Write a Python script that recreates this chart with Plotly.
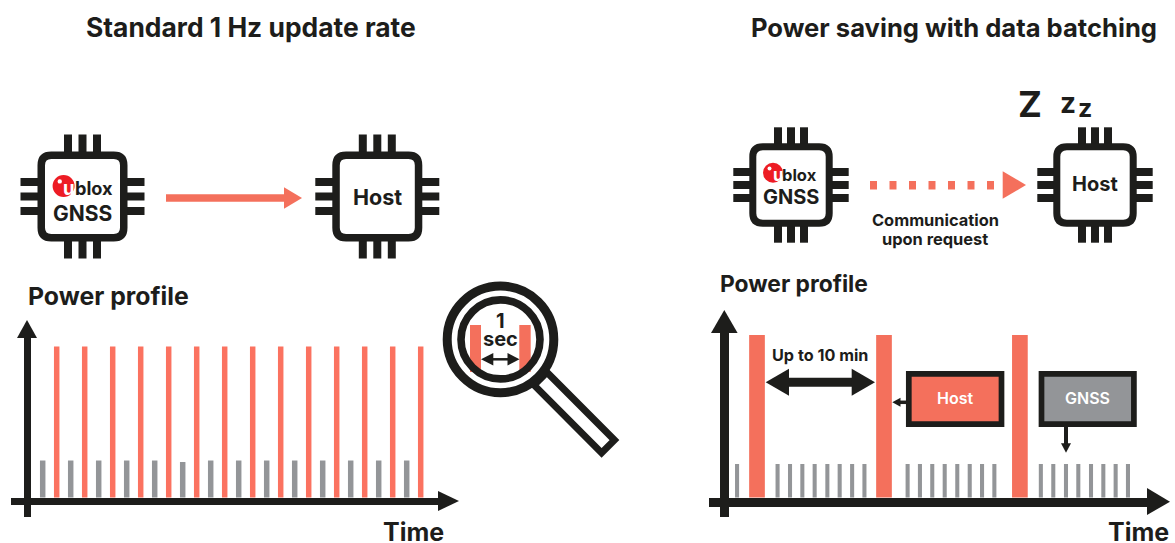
from plotly import graph_objects as go

# left profile: one fix per second, time in s, power in % of the peak
sec_fix_t = [1, 2, 3, 4, 5, 6, 7, 8, 9, 10, 11, 12, 13, 14]
sec_fix_p = [100] * 14
sec_idle_t = [0.5, 1.5, 2.5, 3.5, 4.5, 5.5, 6.5, 7.5, 8.5, 9.5, 10.5, 11.5, 12.5, 13.5]
sec_idle_p = [24.5, 24.5, 24.5, 24.5, 24.5, 23.5, 24.5, 24.5, 24.5, 24.5, 24.5, 24.5, 24.5, 24.5]

# right profile: batching, time in min
batch_host_t = [0, 10, 20.7]
batch_host_p = [100, 100, 100]
batch_gnss_t = [-1.57, 1.62, 2.6, 3.57, 4.54, 5.54, 6.51, 7.49, 8.46,
                11.86, 12.83, 13.8, 14.78, 15.77, 16.75, 17.72, 18.69,
                22.35, 23.33, 24.33, 25.3, 26.3, 27.27, 28.24, 29.21]
batch_gnss_p = [20.6] * 25

W = 1175
H = 543
BLACK = '#1d1d1b'
RED = '#f4705c'
GREY = '#939598'
FONT = 'Inter'


def line(x0, y0, x1, y1, w, color=BLACK):
    return dict(type='line', xref='x', yref='y', x0=x0, y0=y0, x1=x1, y1=y1,
                line=dict(color=color, width=w))


def rect(x0, y0, x1, y1, fill, stroke=None, w=0):
    return dict(type='rect', xref='x', yref='y', x0=x0, y0=y0, x1=x1, y1=y1,
                fillcolor=fill, line=dict(color=stroke or fill, width=w))


def poly(pts, fill=BLACK, stroke=None, w=0):
    path = 'M ' + ' L '.join(f'{x} {y}' for x, y in pts) + ' Z'
    return dict(type='path', xref='x', yref='y', path=path, fillcolor=fill,
                line=dict(color=stroke or fill, width=w))


def circle(cx, cy, r, fill='rgba(0,0,0,0)', stroke=BLACK, w=0):
    return dict(type='circle', xref='x', yref='y', x0=cx - r, y0=cy - r, x1=cx + r, y1=cy + r,
                fillcolor=fill, line=dict(color=stroke, width=w))


def chip(cx, cy, half, sw, pin_gap, pin_w, pin_out, corner=10):
    out = []
    for k in (-1, 0, 1):
        out.append(line(cx + k * pin_gap, cy - pin_out, cx + k * pin_gap, cy + pin_out, pin_w))
        out.append(line(cx - pin_out, cy + k * pin_gap, cx + pin_out, cy + k * pin_gap, pin_w))
    h = half - sw / 2
    c = corner
    x0, x1, y0, y1 = cx - h, cx + h, cy - h, cy + h
    path = (f'M {x0 + c} {y0} L {x1 - c} {y0} Q {x1} {y0} {x1} {y0 + c} L {x1} {y1 - c} '
            f'Q {x1} {y1} {x1 - c} {y1} L {x0 + c} {y1} Q {x0} {y1} {x0} {y1 - c} '
            f'L {x0} {y0 + c} Q {x0} {y0} {x0 + c} {y0} Z')
    out.append(dict(type='path', xref='x', yref='y', path=path, fillcolor='white',
                    line=dict(color=BLACK, width=sw)))
    return out


shapes = []
notes = []


def text(x, y, s, size, color=BLACK, weight=700, h=None):
    notes.append(dict(x=x, y=y, xref='x', yref='y', text=s, showarrow=False, xanchor='center',
                      yanchor='middle', height=h,
                      font=dict(family=FONT, size=size, color=color, weight=weight)))


def logo(cx, cy, r, bx):
    shapes.append(circle(cx, cy, r, fill='#ed1c24', stroke='#ed1c24'))
    shapes.append(circle(cx - r * 0.35, cy - r * 0.42, r * 0.2, fill='white', stroke='white'))
    text(cx + r * 0.5, cy + 2, 'u', r * 1.7, 'white')
    text(bx, cy + 2, 'blox', r * 1.65, BLACK)


# chips
shapes += chip(82.5, 196.5, 45, 7.5, 14.5, 8, 62)
shapes += chip(377.3, 196.5, 45, 7.5, 14.5, 8, 62)
shapes += chip(791, 185, 41.7, 7, 13, 8, 57.7)
shapes += chip(1095, 185, 41.7, 7, 13, 8, 57.7)

logo(63.6, 186, 11, 94)
logo(773, 172.7, 10, 799.5)
text(82, 213, 'GNSS', 21)
text(377.5, 197, 'Host', 21.5)
text(791, 197, 'GNSS', 20)
text(1095, 184, 'Host', 20)

# arrows between chips
shapes.append(line(166, 198, 285, 198, 7.5, RED))
shapes.append(poly([(284, 187.3), (302, 198), (284, 208.7)], RED))
for i in range(7):
    shapes.append(rect(870 + 19.5 * i, 181, 877 + 19.5 * i, 189.5, RED))
shapes.append(poly([(1002.7, 171.3), (1026, 185), (1002.7, 198.7)], RED))

# axis arrow heads, the axis lines themselves belong to the subplots
shapes.append(poly([(17, 338), (27, 320), (37, 338)]))
shapes.append(poly([(438, 491), (459, 501), (438, 511)]))
shapes.append(poly([(711, 333), (724.3, 310), (737.6, 333)]))
shapes.append(poly([(1147, 488), (1170, 501.7), (1147, 515)]))

# double arrow up to 10 min
shapes.append(line(780, 382.3, 860, 382.3, 9))
shapes.append(poly([(765.7, 382.3), (789, 368.8), (789, 395.8)]))
shapes.append(poly([(875, 382.3), (851.7, 368.8), (851.7, 395.8)]))

# boxes
shapes.append(rect(908.8, 373.8, 1001.5, 424.2, RED, BLACK, 5.7))
shapes.append(rect(1041.5, 373.8, 1133.9, 424.2, GREY, BLACK, 5.7))
shapes.append(line(899, 402.3, 907, 402.3, 3.5))
shapes.append(poly([(892.3, 402.3), (900.5, 397.8), (900.5, 406.8)]))
shapes.append(line(1066, 427, 1066, 444, 4))
shapes.append(poly([(1061, 443.3), (1071, 443.3), (1066, 452.7)]))

# magnifier
shapes.append(poly([(546.9, 372.3), (614.4, 440.1), (601.6, 452.9), (534.1, 385.1)], 'white', BLACK, 7))
shapes.append(circle(500.5, 339.4, 53.3, fill='white', w=9))
shapes.append(rect(470, 325, 481, 372, RED))
shapes.append(rect(519.3, 325, 530.7, 372, RED))
shapes.append(circle(500.5, 339.4, 39.5, w=7.6))
shapes.append(line(488, 359.3, 513, 359.3, 2.5))
shapes.append(poly([(481, 359.3), (493.3, 353), (493.3, 365.6)]))
shapes.append(poly([(519.5, 359.3), (507.5, 353), (507.5, 365.6)]))

# texts
text(250.5, 27, 'Standard 1 Hz update rate', 26.4)
text(954, 27, 'Power saving with data batching', 25.6)
text(108.5, 296, 'Power profile', 24.8)
text(793.5, 283, 'Power profile', 22.8)
text(413.5, 531.5, 'Time', 25, h=22)
text(1138, 531.5, 'Time', 25, h=22)
text(500, 320, '1', 20, h=17)
text(500.5, 338, 'sec', 20, h=17)
text(820, 355, 'Up to 10 min', 16.2)
text(935, 220, 'Communication', 16.4)
text(935, 239, 'upon request', 16.4)
text(1030, 104, 'Z', 36)
text(1068, 103, 'z', 28)
text(1084.7, 108, 'z', 25)
text(955.3, 398, 'Host', 16, 'white', 600)
text(1087, 398, 'GNSS', 16, 'white', 600)

fig = go.Figure()
bar_base = dict(marker_line_width=0, hoverinfo='skip', showlegend=False)
fig.add_trace(go.Bar(x=sec_idle_t, y=sec_idle_p, width=0.196, marker_color=GREY,
                     xaxis='x2', yaxis='y2', **bar_base))
fig.add_trace(go.Bar(x=sec_fix_t, y=sec_fix_p, width=0.196, marker_color='#fb7260',
                     xaxis='x2', yaxis='y2', **bar_base))
fig.add_trace(go.Bar(x=batch_gnss_t, y=batch_gnss_p, width=0.32, marker_color=GREY,
                     xaxis='x3', yaxis='y3', **bar_base))
fig.add_trace(go.Bar(x=batch_host_t, y=batch_host_p, width=1.236, marker_color=RED,
                     xaxis='x3', yaxis='y3', **bar_base))

plain = dict(showgrid=False, zeroline=False, showticklabels=False, ticks='', fixedrange=True)


def x_domain(a, b):
    return [a / W, b / W]


def y_domain(top, bottom):
    return [1 - bottom / H, 1 - top / H]


fig.update_layout(
    width=W, height=H, margin=dict(l=0, r=0, t=0, b=0, pad=0),
    paper_bgcolor='white', plot_bgcolor='rgba(0,0,0,0)', barmode='overlay',
    shapes=shapes, annotations=notes,
    xaxis=dict(range=[0, W], domain=[0, 1], visible=False, fixedrange=True),
    yaxis=dict(range=[H, 0], domain=[0, 1], visible=False, fixedrange=True),
    # left subplot
    xaxis2=dict(domain=x_domain(11, 440), range=[1 + (11 - 56.7) / 28, 1 + (440 - 56.7) / 28],
                anchor='free', position=1 - 501 / H, showline=True, linewidth=7, linecolor=BLACK, **plain),
    yaxis2=dict(domain=y_domain(336, 517), range=[(497.5 - 517) / 1.51, (497.5 - 336) / 1.51],
                anchor='free', position=27 / W, showline=True, linewidth=7, linecolor=BLACK, **plain),
    # right subplot
    xaxis3=dict(domain=x_domain(709, 1148), range=[(709 - 757) / 12.7, (1148 - 757) / 12.7],
                anchor='free', position=1 - 501.7 / H, showline=True, linewidth=9, linecolor=BLACK, **plain),
    yaxis3=dict(domain=y_domain(331, 516.7), range=[(497.5 - 516.7) / 1.625, (497.5 - 331) / 1.625],
                anchor='free', position=724.3 / W, showline=True, linewidth=9, linecolor=BLACK, **plain),
)

fig.write_html("out.html", config={'displayModeBar': False},
               post_script="document.body.style.margin='0';")
